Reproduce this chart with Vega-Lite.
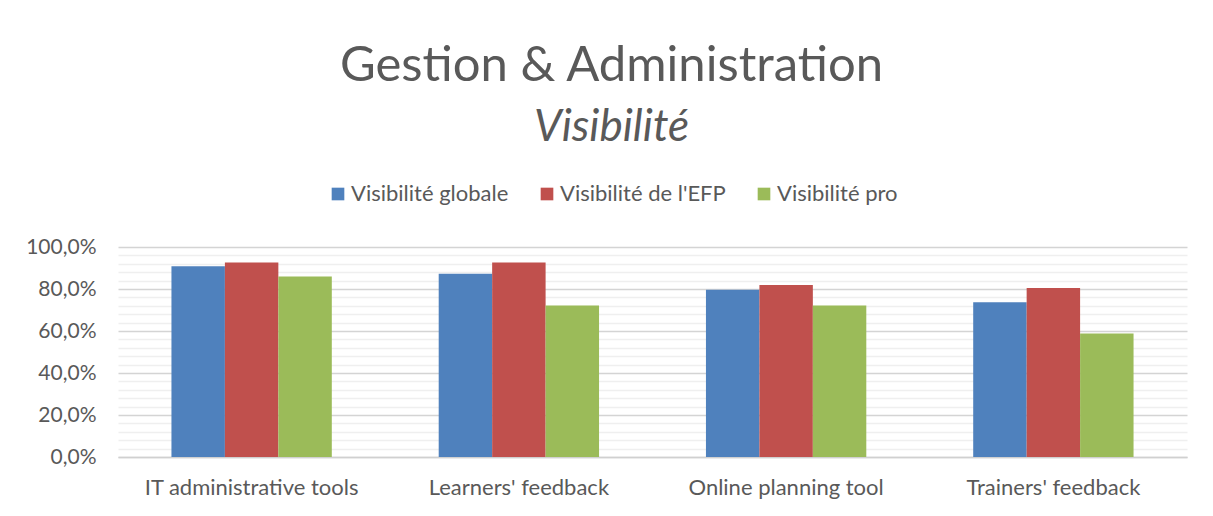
{
  "$schema": "https://vega.github.io/schema/vega-lite/v6.json",
  "width": 1069,
  "height": 210,
  "autosize": {"type": "none"},
  "padding": {"left": 118, "top": 247, "right": 26, "bottom": 59},
  "background": "white",
  "title": {
    "text": "Gestion & Administration",
    "subtitle": "Visibilité",
    "anchor": "middle",
    "dx": -41,
    "font": "Lato",
    "fontSize": 49,
    "fontWeight": "normal",
    "color": "#595959",
    "subtitleFont": "Lato",
    "subtitleFontSize": 44,
    "subtitleFontStyle": "italic",
    "subtitleColor": "#595959",
    "subtitlePadding": 15,
    "offset": 33
  },
  "data": {
    "values": [
      {"categorie": "IT administrative tools", "serie": "Visibilité globale", "valeur": 90.8},
      {"categorie": "IT administrative tools", "serie": "Visibilité de l'EFP", "valeur": 92.6},
      {"categorie": "IT administrative tools", "serie": "Visibilité pro", "valeur": 86.0},
      {"categorie": "Learners' feedback", "serie": "Visibilité globale", "valeur": 87.3},
      {"categorie": "Learners' feedback", "serie": "Visibilité de l'EFP", "valeur": 92.6},
      {"categorie": "Learners' feedback", "serie": "Visibilité pro", "valeur": 72.2},
      {"categorie": "Online planning tool", "serie": "Visibilité globale", "valeur": 79.7},
      {"categorie": "Online planning tool", "serie": "Visibilité de l'EFP", "valeur": 81.9},
      {"categorie": "Online planning tool", "serie": "Visibilité pro", "valeur": 72.2},
      {"categorie": "Trainers' feedback", "serie": "Visibilité globale", "valeur": 73.7},
      {"categorie": "Trainers' feedback", "serie": "Visibilité de l'EFP", "valeur": 80.5},
      {"categorie": "Trainers' feedback", "serie": "Visibilité pro", "valeur": 58.8}
    ]
  },
  "mark": {"type": "bar"},
  "encoding": {
    "x": {
      "field": "categorie",
      "type": "nominal",
      "sort": null,
      "scale": {"paddingInner": 0.4, "paddingOuter": 0.2},
      "axis": {
        "title": null,
        "labelAngle": 0,
        "labelFont": "Lato",
        "labelFontSize": 22,
        "labelColor": "#595959",
        "labelPadding": 20,
        "labelLimit": 0,
        "ticks": false,
        "domainColor": "#d0d0d0",
        "domainWidth": 1.5
      }
    },
    "xOffset": {"field": "serie", "type": "nominal", "sort": ["Visibilité globale", "Visibilité de l'EFP", "Visibilité pro"], "scale": {"paddingInner": 0, "paddingOuter": 0}},
    "y": {
      "field": "valeur",
      "type": "quantitative",
      "scale": {"domain": [0, 100], "nice": false},
      "axis": {
        "title": null,
        "values": [0, 4, 8, 12, 16, 20, 24, 28, 32, 36, 40, 44, 48, 52, 56, 60, 64, 68, 72, 76, 80, 84, 88, 92, 96, 100],
        "labelExpr": "datum.value % 20 === 0 ? replace(format(datum.value, '.1f'), '.', ',') + '%' : ''",
        "labelFont": "Lato",
        "labelFontSize": 21,
        "labelColor": "#595959",
        "labelPadding": 22,
        "ticks": false,
        "domain": false,
        "grid": true,
        "gridColor": {"condition": {"test": "datum.value % 20 === 0", "value": "#d4d4d4"}, "value": "#efefef"},
        "gridWidth": 1.5
      }
    },
    "color": {
      "field": "serie",
      "type": "nominal",
      "sort": ["Visibilité globale", "Visibilité de l'EFP", "Visibilité pro"],
      "scale": {"domain": ["Visibilité globale", "Visibilité de l'EFP", "Visibilité pro"], "range": ["#4F81BD", "#C0504D", "#9BBB59"]},
      "legend": {
        "title": null,
        "orient": "none",
        "direction": "horizontal",
        "legendX": 209,
        "legendY": -64,
        "symbolType": "square",
        "symbolSize": 160,
        "symbolStrokeWidth": 0,
        "labelFont": "Lato",
        "labelFontSize": 22,
        "labelColor": "#595959",
        "labelOffset": 2,
        "labelLimit": 0,
        "columnPadding": 27
      }
    }
  },
  "config": {
    "view": {"stroke": null}
  }
}
